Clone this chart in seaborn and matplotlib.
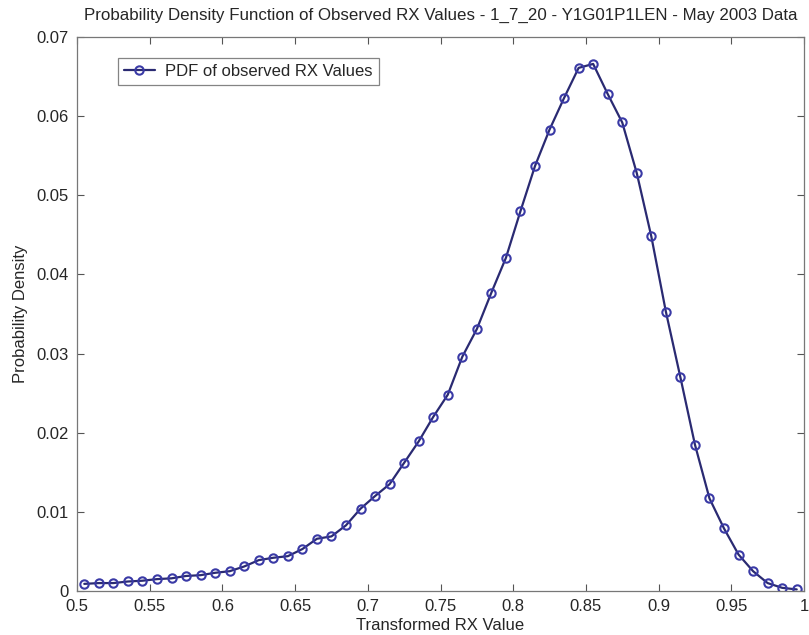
import matplotlib
matplotlib.use("Agg")
import matplotlib.pyplot as plt
import seaborn as sns
import pandas as pd
import numpy as np

x_values = [0.505, 0.515, 0.525, 0.535, 0.545, 0.555, 0.565, 0.575, 0.585, 0.595,
            0.605, 0.615, 0.625, 0.635, 0.645, 0.655, 0.665, 0.675, 0.685, 0.695,
            0.705, 0.715, 0.725, 0.735, 0.745, 0.755, 0.765, 0.775, 0.785, 0.795,
            0.805, 0.815, 0.825, 0.835, 0.845, 0.855, 0.865, 0.875, 0.885, 0.895,
            0.905, 0.915, 0.925, 0.935, 0.945, 0.955, 0.965, 0.975, 0.985, 0.995]
pdf_values = [0.0009, 0.0010, 0.0010, 0.0012, 0.0013, 0.0015, 0.0016, 0.0019, 0.0020, 0.0023,
              0.0025, 0.0031, 0.0039, 0.0042, 0.0044, 0.0053, 0.0066, 0.0069, 0.0083, 0.0104,
              0.0120, 0.0135, 0.0162, 0.0189, 0.0220, 0.0248, 0.0296, 0.0331, 0.0377, 0.0421,
              0.0480, 0.0537, 0.0583, 0.0623, 0.0661, 0.0666, 0.0628, 0.0592, 0.0528, 0.0448,
              0.0353, 0.0270, 0.0185, 0.0117, 0.0079, 0.0046, 0.0025, 0.0010, 0.0004, 0.0002]
series_label = "PDF of observed RX Values"
title = "Probability Density Function of Observed RX Values - 1_7_20 - Y1G01P1LEN - May 2003 Data"
x_label = "Transformed RX Value"
y_label = "Probability Density"
x_ticks = [0.5, 0.55, 0.6, 0.65, 0.7, 0.75, 0.8, 0.85, 0.9, 0.95, 1.0]
x_tick_labels = ["0.5", "0.55", "0.6", "0.65", "0.7", "0.75", "0.8", "0.85", "0.9", "0.95", "1"]
y_ticks = [0, 0.01, 0.02, 0.03, 0.04, 0.05, 0.06, 0.07]
y_tick_labels = ["0", "0.01", "0.02", "0.03", "0.04", "0.05", "0.06", "0.07"]

df = pd.DataFrame({"x": x_values, "y": pdf_values, "series": series_label})

sns.set_theme(style="white")
plt.rcParams["font.family"] = ["Liberation Sans", "DejaVu Sans"]

fig = plt.figure(figsize=(8.09, 6.35), dpi=100)
ax = fig.add_axes([0.0952, 0.0693, 0.8986, 0.8724])

line_color = "#2a2a72"
sns.lineplot(data=df, x="x", y="y", hue="series", palette=[line_color], ax=ax,
             marker="o", markersize=6, markerfacecolor="none",
             markeredgecolor="#3a3aa6", markeredgewidth=1.5, linewidth=1.6)

ax.set_xlim(0.5, 1.0)
ax.set_ylim(0, 0.07)
ax.set_xticks(x_ticks)
ax.set_xticklabels(x_tick_labels)
ax.set_yticks(y_ticks)
ax.set_yticklabels(y_tick_labels)
ax.tick_params(direction="in", length=5, width=0.8, color="#555555", labelsize=12,
               top=True, right=True, bottom=True, left=True)
ax.tick_params(axis="x", pad=6)
ax.tick_params(axis="y", pad=6)
for s in ax.spines.values():
    s.set_color("#777777")
    s.set_linewidth(0.9)
ax.set_xlabel(x_label, fontsize=12, labelpad=3)
ax.set_ylabel(y_label, fontsize=12, labelpad=6)
ax.set_title(title, fontsize=12.2, pad=12)

leg = ax.legend(loc="upper left", bbox_to_anchor=(0.056, 0.962), fontsize=12,
                frameon=True, fancybox=False, edgecolor="#666666",
                handlelength=1.9, handletextpad=0.6, borderpad=0.35, borderaxespad=0)
leg.get_frame().set_linewidth(0.9)

fig.savefig("out.png", dpi=100)
